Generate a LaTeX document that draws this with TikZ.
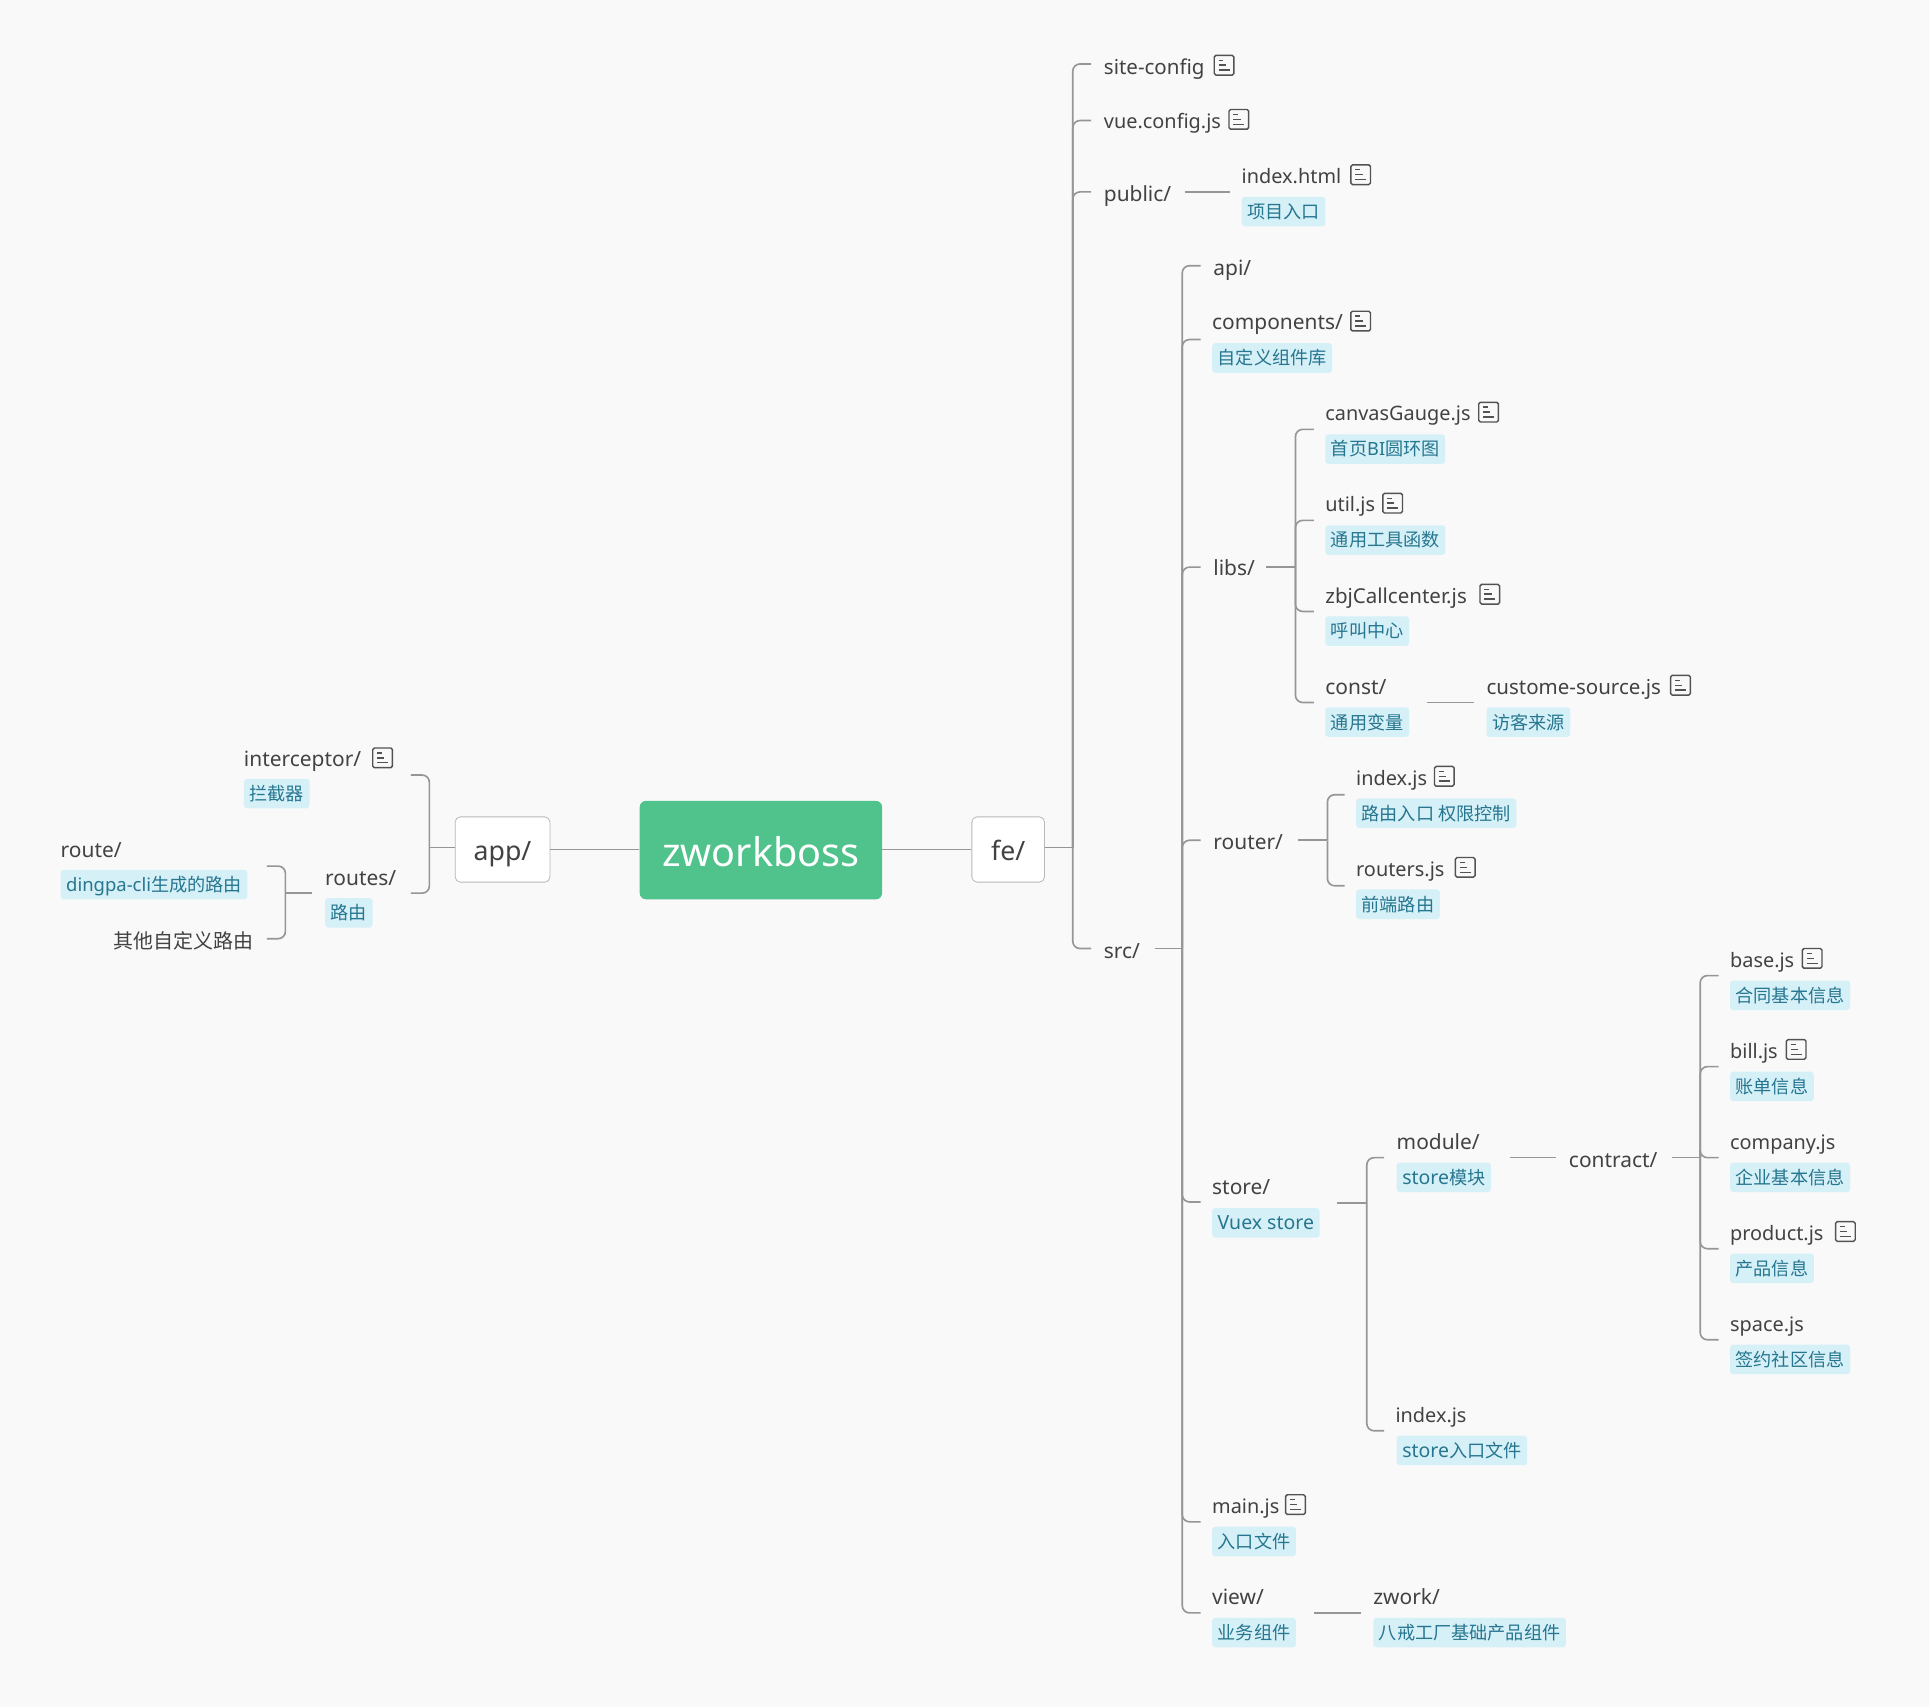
\documentclass[tikz,border=0pt]{standalone}
\usepackage{fontspec}
\setmainfont{Noto Sans}
\newfontfamily\cjk{Noto Sans CJK SC}
\newcommand\tagword{\fontsize{9}{11}\selectfont}
\newcommand\tagwide{\fontsize{9.5}{11}\selectfont}
\definecolor{pagebg}{HTML}{F9F9F9}
\definecolor{rootfill}{HTML}{50C28B}
\definecolor{tagfill}{HTML}{D6F0F8}
\definecolor{tagtext}{HTML}{26768F}
\definecolor{titletext}{HTML}{424242}
\definecolor{linegray}{HTML}{969696}
\tikzset{
    title/.style={anchor=west,inner sep=0pt,text=titletext,font=\fontsize{10.2}{12}\selectfont,text height=9pt,text depth=1.6pt},
    filetitle/.style={title,font=\fontsize{9.7}{12}\selectfont},
    midtitle/.style={title,font=\fontsize{10}{12}\selectfont},
    tag/.style={anchor=west,fill=tagfill,text=tagtext,rounded corners=1.5pt,inner xsep=2.7pt,inner ysep=0pt,minimum height=14.4pt,font=\fontsize{8.85}{11}\selectfont,text height=7.5pt,text depth=.8pt},
    topbox/.style={draw=black!28,fill=white,rounded corners=2.5pt,text=titletext,font=\fontsize{13}{16}\selectfont,inner sep=0pt,text height=11.5pt,text depth=.9pt},
    rootbox/.style={fill=rootfill,rounded corners=3pt,text=white,font=\fontsize{19.3}{22}\selectfont,inner sep=0pt,text height=17pt,text depth=1pt},
    branch/.style={draw=linegray,line width=.8pt,rounded corners=3.5pt},
    noteicon/.pic={
        \draw[black!68,line width=.7pt,rounded corners=.8pt] (-8,-8) rectangle (8,8);
        \draw[black!68,line width=.7pt] (-4.5,-4) -- (-.5,-4) (-4.5,0) -- (1.5,0) (-4.5,4) -- (4.5,4);
    }
}

\begin{document}
\begin{tikzpicture}[x=.6pt,y=-.6pt]
    \fill[pagebg] (0,0) rectangle (1568,1387.6);
    \useasboundingbox (0,0) rectangle (1568,1387.6);

    \node[rootbox,minimum width=118.2pt,minimum height=48pt] (root) at (618.5,691) {zworkboss};
    \node[topbox,minimum width=46.2pt,minimum height=31.8pt] (app) at (408.5,690.5) {app/};
    \node[topbox,minimum width=35.4pt,minimum height=31.8pt] (fe) at (819.5,690.5) {fe/};

    % left side
    \node[title] (interceptor) at (198,617) {interceptor/};
    \pic (iconinterceptor) at (311,616) {noteicon};
    \node[tag] (taginterceptor) at (198,645) {\cjk 拦截器};
    \node[title] (routes) at (264,714) {routes/};
    \node[tag] (tagroutes) at (264,742) {\cjk 路由};
    \node[title] (route) at (49,691) {route/};
    \node[tag] (tagroute) at (49,719) {{\tagword dingpa-cli}{\cjk 生成的路由}};
    \node[title,anchor=east] (custom) at (206,765) {\cjk\fontsize{9.75}{12}\selectfont 其他自定义路由};

    % fe side
    \node[midtitle] (sitecfg) at (897,54) {site-config};
    \pic (iconsitecfg) at (995,53) {noteicon};
    \node[filetitle] (vuecfg) at (897,98.5) {vue.config.js};
    \pic (iconvuecfg) at (1007,97) {noteicon};
    \node[title] (public) at (897,158) {public/};
    \node[filetitle] (indexhtml) at (1009,143) {index.html};
    \pic (iconindexhtml) at (1106,142) {noteicon};
    \node[tag] (tagindexhtml) at (1009,172) {\cjk 项目入口};
    \node[title] (src) at (897,773) {src/};

    \node[title] (api) at (986,217.5) {api/};
    \node[title] (components) at (985,262) {components/};
    \pic (iconcomponents) at (1106,261) {noteicon};
    \node[tag] (tagcomponents) at (985,291) {\cjk 自定义组件库};
    \node[title] (libs) at (986,462) {libs/};
    \node[title] (router) at (986,684) {router/};
    \node[title] (store) at (985,965) {store/};
    \node[tag] (tagstore) at (985,994) {\tagwide Vuex store};
    \node[filetitle] (mainjs) at (985,1224) {main.js};
    \pic (iconmainjs) at (1053,1223) {noteicon};
    \node[tag] (tagmainjs) at (985,1253) {\cjk 入口文件};
    \node[title] (view) at (985,1298) {view/};
    \node[tag] (tagview) at (985,1327) {\cjk 业务组件};
    \node[title] (zwork) at (1116,1298) {zwork/};
    \node[tag] (tagzwork) at (1116,1327) {\cjk 八戒工厂基础产品组件};

    \node[filetitle] (canvas) at (1077,336) {canvasGauge.js};
    \pic (iconcanvas) at (1210,335) {noteicon};
    \node[tag] (tagcanvas) at (1077,365) {{\cjk 首页}BI{\cjk 圆环图}};
    \node[filetitle] (util) at (1077,410) {util.js};
    \pic (iconutil) at (1132,409) {noteicon};
    \node[tag] (tagutil) at (1077,439) {\cjk 通用工具函数};
    \node[midtitle] (callcenter) at (1077,484) {zbjCallcenter.js};
    \pic (iconcallcenter) at (1211,483) {noteicon};
    \node[tag] (tagcallcenter) at (1077,513) {\cjk 呼叫中心};
    \node[title] (const) at (1077,558) {const/};
    \node[tag] (tagconst) at (1077,587) {\cjk 通用变量};
    \node[midtitle] (source) at (1208,558) {custome-source.js};
    \pic (iconsource) at (1366,557) {noteicon};
    \node[tag] (tagsource) at (1208,587) {\cjk 访客来源};

    \node[filetitle] (routerindex) at (1102,632) {index.js};
    \pic (iconrouterindex) at (1174,631) {noteicon};
    \node[tag] (tagrouterindex) at (1102,661) {\cjk 路由入口 权限控制};
    \node[filetitle] (routers) at (1102,706) {routers.js};
    \pic (iconrouters) at (1191,705) {noteicon};
    \node[tag] (tagrouters) at (1102,735) {\cjk 前端路由};

    \node[title] (module) at (1135,928) {module/};
    \node[tag] (tagmodule) at (1135,957) {{\tagwide store}{\cjk 模块}};
    \node[filetitle] (storeindex) at (1134,1150) {index.js};
    \node[tag] (tagstoreindex) at (1135,1179) {{\tagwide store}{\cjk 入口文件}};
    \node[title] (contract) at (1275,943) {contract/};

    \node[filetitle] (base) at (1406,780) {base.js};
    \pic (iconbase) at (1473,779) {noteicon};
    \node[tag] (tagbase) at (1406,809) {\cjk 合同基本信息};
    \node[filetitle] (bill) at (1406,854) {bill.js};
    \pic (iconbill) at (1460,853) {noteicon};
    \node[tag] (tagbill) at (1406,883) {\cjk 账单信息};
    \node[filetitle] (company) at (1406,928) {company.js};
    \node[tag] (tagcompany) at (1406,957) {\cjk 企业基本信息};
    \node[filetitle] (product) at (1406,1002) {product.js};
    \pic (iconproduct) at (1500,1001) {noteicon};
    \node[tag] (tagproduct) at (1406,1031) {\cjk 产品信息};
    \node[filetitle] (space) at (1406,1076) {space.js};
    \node[tag] (tagspace) at (1406,1105) {\cjk 签约社区信息};

    % connector ends
    \coordinate (apphub) at (349,689);
    \coordinate (interceptorend) at (334,630);
    \coordinate (routesend) at (334,726);
    \coordinate (routesout) at (254,726);
    \coordinate (routeshub) at (232,726);
    \coordinate (routeend) at (217,704);
    \coordinate (customend) at (217,763);

    \coordinate (fehub) at (872,689);
    \coordinate (sitecfgend) at (887,52);
    \coordinate (vuecfgend) at (887,98);
    \coordinate (publicend) at (887,156);
    \coordinate (srcend) at (887,771);
    \coordinate (publicout) at (963,156);
    \coordinate (indexhtmlend) at (1000,156);

    \coordinate (srcout) at (939,771);
    \coordinate (srchub) at (961,771);
    \coordinate (apiend) at (976,216);
    \coordinate (componentsend) at (976,276);
    \coordinate (libsend) at (976,461);
    \coordinate (routerend) at (976,683);
    \coordinate (storeend) at (976,977);
    \coordinate (mainjsend) at (976,1237);
    \coordinate (viewend) at (976,1311);
    \coordinate (viewout) at (1068,1311);
    \coordinate (zworkend) at (1106,1311);

    \coordinate (libsout) at (1029,461);
    \coordinate (libshub) at (1053,461);
    \coordinate (canvasend) at (1068,349);
    \coordinate (utilend) at (1068,423);
    \coordinate (callcenterend) at (1068,497);
    \coordinate (constend) at (1068,571);
    \coordinate (constout) at (1160,571);
    \coordinate (sourceend) at (1198,571);

    \coordinate (routerout) at (1055,683);
    \coordinate (routerhub) at (1079,683);
    \coordinate (routerindexend) at (1093,646);
    \coordinate (routersend) at (1093,720);

    \coordinate (storeout) at (1087,978);
    \coordinate (storehub) at (1111,978);
    \coordinate (moduleend) at (1125,941);
    \coordinate (storeindexend) at (1125,1163);
    \coordinate (moduleout) at (1227,941);
    \coordinate (contractend) at (1265,941);
    \coordinate (contractout) at (1359,941);
    \coordinate (contracthub) at (1382,941);
    \coordinate (baseend) at (1397,793);
    \coordinate (billend) at (1397,867);
    \coordinate (companyend) at (1397,941);
    \coordinate (productend) at (1397,1015);
    \coordinate (spaceend) at (1397,1089);

    % connectors
    \draw[branch] (app.east) -- (root.west |- app.east);
    \draw[branch] (root.east |- fe.west) -- (fe.west);

    \draw[branch] (app.west |- apphub) -- (apphub);
    \draw[branch] (interceptorend) -| (apphub);
    \draw[branch] (routesend) -| (apphub);
    \draw[branch] (routesout) -- (routeshub);
    \draw[branch] (routeend) -| (routeshub);
    \draw[branch] (customend) -| (routeshub);

    \draw[branch] (fe.east |- fehub) -- (fehub);
    \foreach \e in {sitecfgend,vuecfgend,publicend,srcend}{
        \draw[branch] (fehub) |- (\e);
    }
    \draw[branch] (publicout) -- (indexhtmlend);

    \draw[branch] (srcout) -- (srchub);
    \foreach \e in {apiend,componentsend,libsend,routerend,storeend,mainjsend,viewend}{
        \draw[branch] (srchub) |- (\e);
    }
    \draw[branch] (viewout) -- (zworkend);

    \draw[branch] (libsout) -- (libshub);
    \foreach \e in {canvasend,utilend,callcenterend,constend}{
        \draw[branch] (libshub) |- (\e);
    }
    \draw[branch] (constout) -- (sourceend);

    \draw[branch] (routerout) -- (routerhub);
    \foreach \e in {routerindexend,routersend}{
        \draw[branch] (routerhub) |- (\e);
    }

    \draw[branch] (storeout) -- (storehub);
    \foreach \e in {moduleend,storeindexend}{
        \draw[branch] (storehub) |- (\e);
    }
    \draw[branch] (moduleout) -- (contractend);

    \draw[branch] (contractout) -- (contracthub);
    \foreach \e in {baseend,billend,companyend,productend,spaceend}{
        \draw[branch] (contracthub) |- (\e);
    }
\end{tikzpicture}
\end{document}
